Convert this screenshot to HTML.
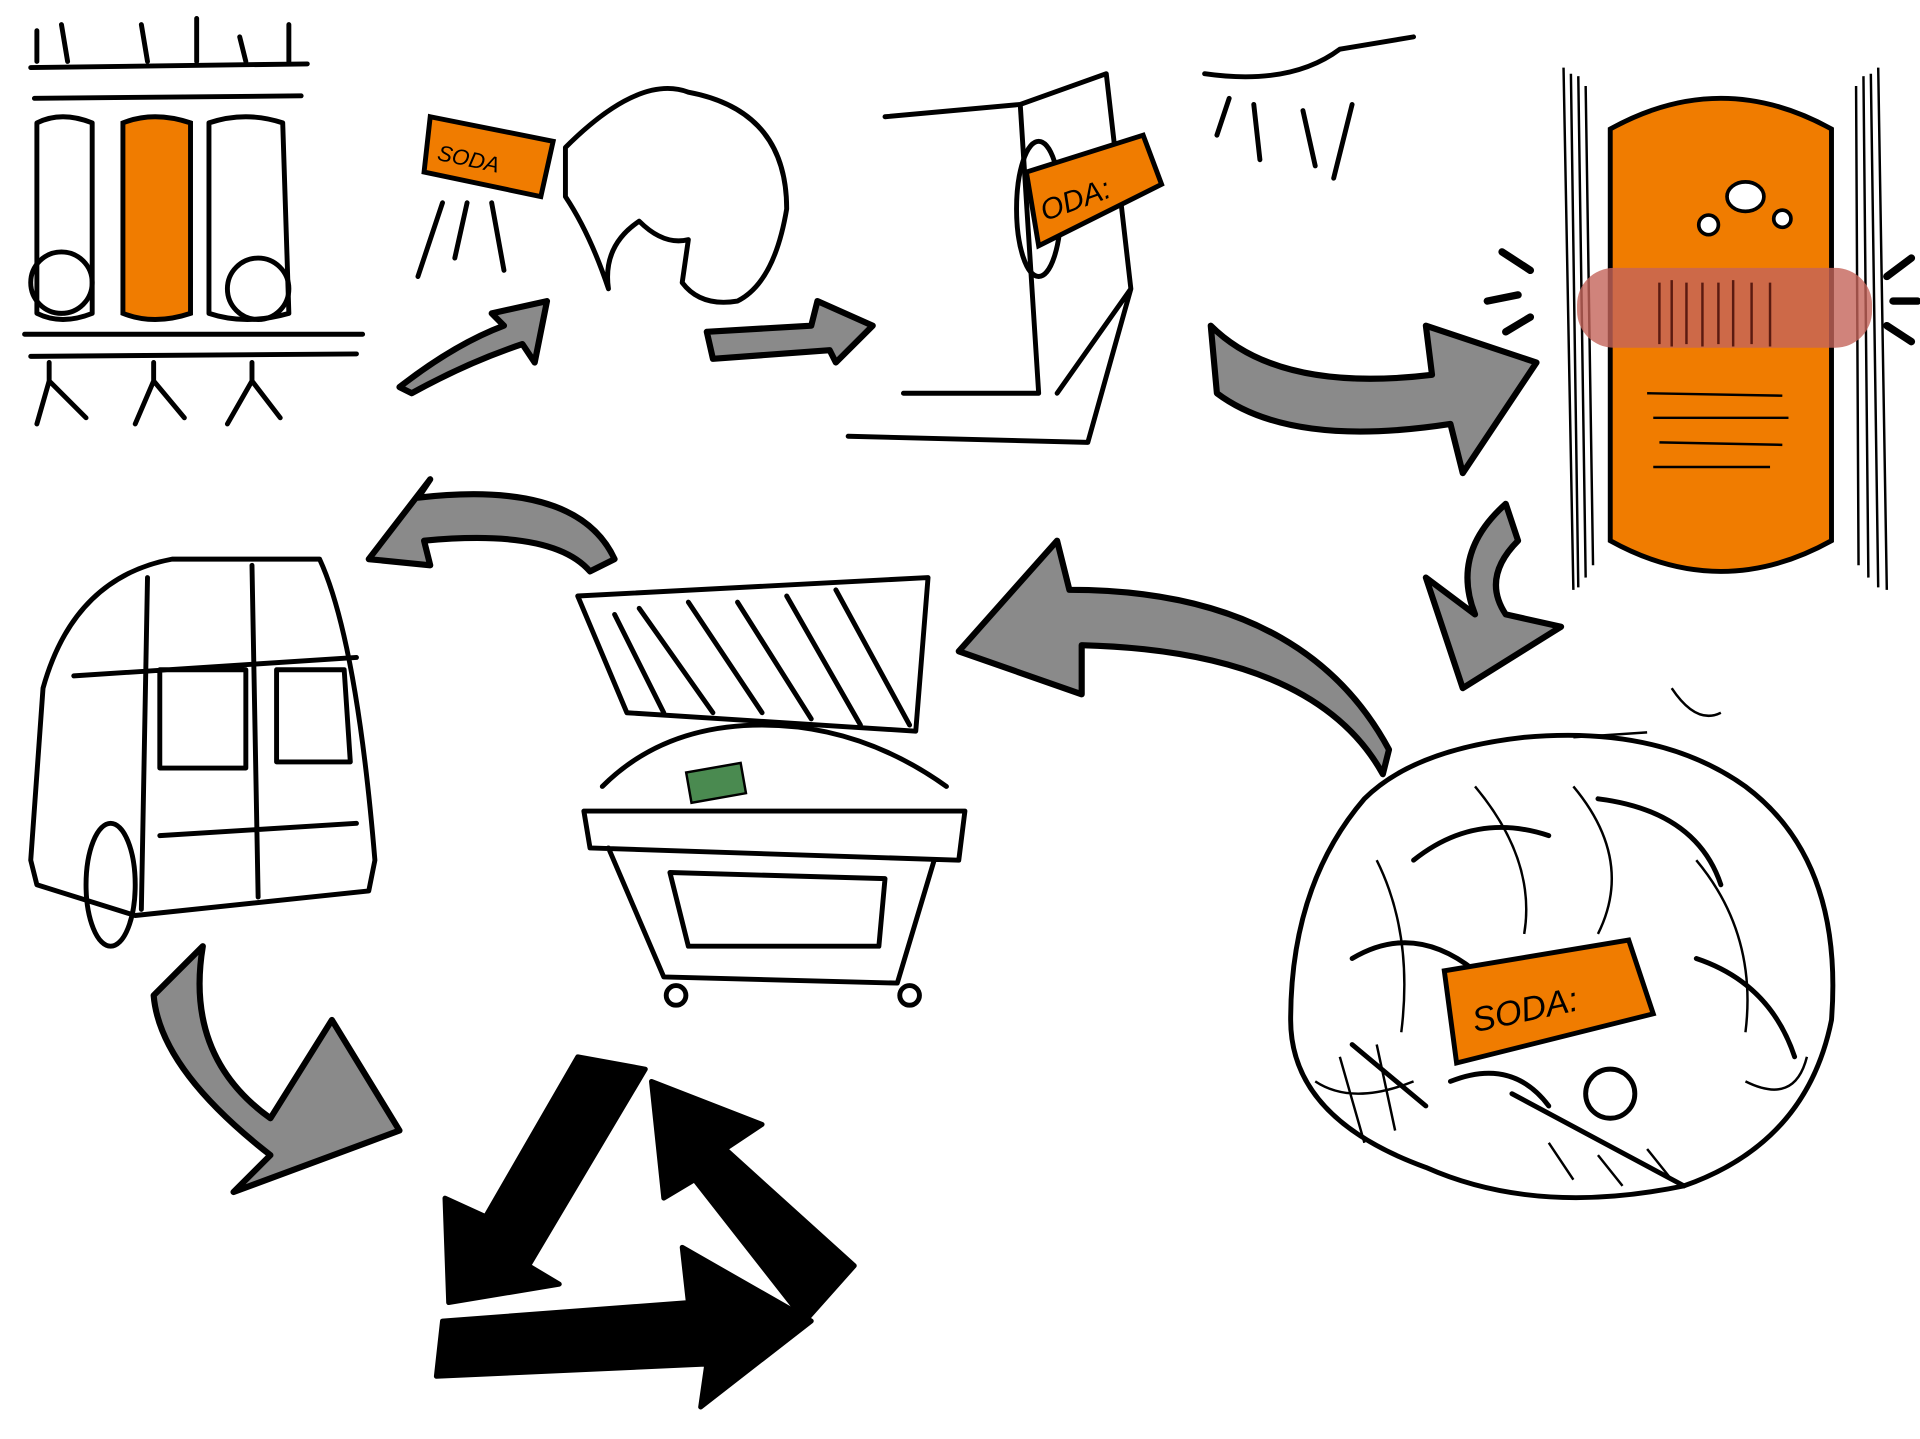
<!DOCTYPE html>
<html><head><meta charset="utf-8"><style>html,body{margin:0;padding:0;background:#fff}svg{display:block}</style></head>
<body>
<svg width="1920" height="1439" viewBox="0 0 1562 1171" preserveAspectRatio="none" xmlns="http://www.w3.org/2000/svg">
<g fill="none" stroke="#000" stroke-width="4" stroke-linecap="round" stroke-linejoin="round">
<path d="M30 50 L30 25 M55 50 L50 20 M120 50 L115 20 M160 50 L160 15 M200 50 L195 30 M235 50 L235 20"/>
<path d="M25 55 L250 52 M28 80 L245 78"/>
<path d="M30 100 Q50 90 75 100 L75 255 Q50 265 30 255 Z"/>
<path d="M170 100 Q200 90 230 100 L235 255 Q200 265 170 255 Z"/>
<path d="M20 272 L295 272 M25 290 L290 288"/>
<path d="M40 295 L40 310 L30 345 M40 310 L70 340 M125 295 L125 310 L110 345 M125 310 L150 340 M205 295 L205 310 L185 345 M205 310 L228 340"/>
<circle cx="50" cy="230" r="25"/><circle cx="130" cy="230" r="25"/><circle cx="210" cy="235" r="25"/>
<path d="M460 120 Q520 60 560 75 Q640 90 640 170 Q630 230 600 245 Q570 250 555 230 L560 195 Q540 200 520 180 Q490 200 495 235 Q480 190 460 160 Z"/>
<path d="M360 165 L340 225 M380 165 L370 210 M400 165 L410 220"/>
<path d="M720 95 L830 85 L900 60 L920 235 L885 360 L690 355 M830 85 L845 320 L735 320 M920 235 L860 320"/>
<ellipse cx="845" cy="170" rx="18" ry="55"/>
<path d="M980 60 Q1050 70 1090 40 L1150 30 M1000 80 L990 110 M1020 85 L1025 130 M1060 90 L1070 135 M1100 85 L1085 145"/>
<path d="M470 485 L755 470 L745 595 L510 580 Z"/>
<path d="M475 660 L785 660 L780 700 L480 690 Z M495 690 L540 795 L730 800 L760 700 M545 710 L720 715 L715 770 L560 770 Z"/>
<path d="M500 500 L540 580 M520 495 L580 580 M560 490 L620 580 M600 490 L660 585 M640 485 L700 590 M680 480 L740 590"/>
<path d="M490 640 Q540 590 620 590 Q700 590 770 640"/>
<circle cx="550" cy="810" r="8"/><circle cx="740" cy="810" r="8"/>
<path d="M25 700 L35 560 Q60 470 140 455 L260 455 Q290 520 305 700 L300 725 L110 745 L30 720 Z"/>
<path d="M60 550 L290 535 M120 470 L115 740 M205 460 L210 730 M130 545 L200 545 L200 625 L130 625 Z M225 545 L280 545 L285 620 L225 620 Z M130 680 L290 670"/>
<ellipse cx="90" cy="720" rx="20" ry="50"/>
<path d="M1110 650 Q1150 610 1240 600 Q1350 590 1420 640 Q1500 700 1490 830 Q1470 930 1370 965 Q1250 990 1160 950 Q1050 910 1050 830 Q1050 720 1110 650 Z"/>
<path d="M1150 700 Q1200 660 1260 680 M1300 650 Q1380 660 1400 720 M1100 780 Q1150 750 1200 790 M1180 880 Q1230 860 1260 900 M1380 780 Q1440 800 1460 860 M1230 890 L1370 965 M1100 850 L1160 900"/>
<circle cx="1310" cy="890" r="20"/>
</g>
<g fill="none" stroke="#000" stroke-width="2">
<path d="M1272 55 L1280 480 M1278 60 L1284 478 M1284 62 L1290 470 M1290 70 L1296 460 M1528 55 L1535 480 M1522 60 L1528 478 M1516 62 L1520 470 M1510 70 L1512 460"/>
<path d="M1120 700 Q1150 760 1140 840 M1200 640 Q1250 700 1240 760 M1280 640 Q1330 700 1300 760 M1380 700 Q1430 760 1420 840 M1090 860 L1110 930 M1120 850 L1135 920 M1260 930 L1280 960 M1300 940 L1320 965 M1340 935 L1360 960 M1070 880 Q1100 900 1150 880 M1420 880 Q1460 900 1470 860"/>
<path d="M1360 560 Q1380 590 1400 580 M1280 600 L1340 596"/>
</g>
<g fill="#f07c00" stroke="#000" stroke-width="4">
<path d="M100 100 Q125 90 155 100 L155 255 Q125 265 100 255 Z"/>
<path d="M350 95 L450 115 L440 160 L345 140 Z"/>
<path d="M835 140 L930 110 L945 150 L845 200 Z"/>
<path d="M1310 105 Q1400 55 1490 105 L1490 440 Q1400 490 1310 440 Z"/>
<path d="M1175 790 L1325 765 L1345 825 L1185 865 Z"/>
</g>
<rect x="1283" y="218" width="240" height="65" rx="30" fill="#c4645a" opacity="0.8"/>
<g stroke="#5a1a10" stroke-width="2"><path d="M1350 230 L1350 280 M1360 228 L1360 282 M1372 230 L1372 280 M1385 230 L1385 282 M1398 230 L1398 280 M1410 228 L1410 282 M1425 230 L1425 280 M1440 230 L1440 282"/></g>
<g stroke="#000" stroke-width="2"><path d="M1340 320 L1450 322 M1345 340 L1455 340 M1350 360 L1450 362 M1345 380 L1440 380"/></g>
<g fill="#fff" stroke="#000" stroke-width="3"><ellipse cx="1420" cy="160" rx="15" ry="12"/><ellipse cx="1390" cy="183" rx="8" ry="8"/><ellipse cx="1450" cy="178" rx="7" ry="7"/></g>
<g stroke="#000" stroke-width="6" stroke-linecap="round"><path d="M1222 205 L1245 220 M1210 245 L1235 240 M1225 270 L1245 258 M1535 225 L1555 210 M1540 245 L1560 245 M1535 265 L1555 278"/></g>
<g font-family="Liberation Sans, sans-serif" font-style="italic" font-size="28" fill="#000">
<text x="1200" y="840" transform="rotate(-12 1200 840)">SODA:</text>
<text x="850" y="180" transform="rotate(-20 850 180)" font-size="24">ODA:</text>
<text x="355" y="130" transform="rotate(12 355 130)" font-size="18">SODA</text>
</g>
<rect x="560" y="625" width="45" height="25" fill="#4a8a50" stroke="#000" stroke-width="2" transform="rotate(-10 580 637)"/>
<g fill="#8a8a8a" stroke="#000" stroke-width="5" stroke-linejoin="round">
<path d="M325 315 Q370 280 410 265 L400 255 L445 245 L435 295 L425 280 Q380 295 335 320 Z"/>
<path d="M575 270 L660 265 L665 245 L710 265 L680 295 L675 285 L580 292 Z"/>
<path d="M985 265 Q1040 320 1165 305 L1160 265 L1250 295 L1190 385 L1180 345 Q1050 365 990 320 Z"/>
<path d="M1225 410 Q1180 450 1200 500 L1160 470 L1190 560 L1270 510 L1225 500 Q1205 470 1235 440 Z"/>
<path d="M1125 630 Q1070 530 880 525 L880 565 L780 530 L860 440 L870 480 Q1060 480 1130 610 Z"/>
<path d="M500 455 Q470 390 340 405 L350 390 L300 455 L350 460 L345 440 Q450 430 480 465 Z"/>
<path d="M165 770 Q150 860 220 910 L270 830 L325 920 L190 970 L220 940 Q130 870 125 810 Z"/>
</g>
<g fill="#000" stroke="#000" stroke-width="4" stroke-linejoin="round">
<path d="M470 860 L525 870 L430 1030 L455 1045 L365 1060 L362 975 L395 990 Z"/>
<path d="M530 880 L620 915 L590 935 L695 1030 L655 1075 L565 960 L540 975 Z"/>
<path d="M360 1075 L560 1060 L555 1015 L660 1075 L570 1145 L575 1110 L355 1120 Z"/>
</g>
</svg>
</body></html>
